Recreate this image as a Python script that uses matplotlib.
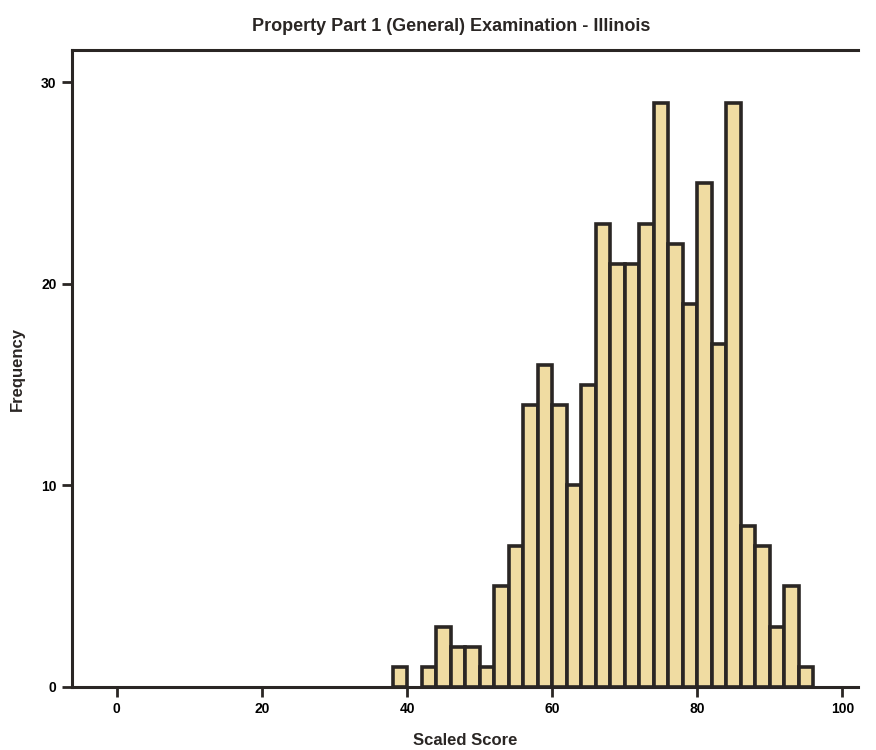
import matplotlib
matplotlib.use('Agg')
import matplotlib.pyplot as plt

# Histogram bins (left edge of each 2-point bin) and counts
bin_left = [38, 40, 42, 44, 46, 48, 50, 52, 54, 56, 58, 60, 62, 64, 66,
            68, 70, 72, 74, 76, 78, 80, 82, 84, 86, 88, 90, 92, 94]
counts = [1, 0, 1, 3, 2, 2, 1, 5, 7, 14, 16, 14, 10, 15, 23,
          21, 21, 23, 29, 22, 19, 25, 17, 29, 8, 7, 3, 5, 1]
bin_width = 2

x_ticks = [0, 20, 40, 60, 80, 100]
y_ticks = [0, 10, 20, 30]

plt.rcParams['font.family'] = ['Liberation Sans', 'DejaVu Sans']
plt.rcParams['font.weight'] = 'bold'

fig = plt.figure(figsize=(8.76, 7.5), dpi=100)
ax = fig.add_axes([0.082, 0.084, 0.897, 0.849])

# skip empty bins so no flat outline is drawn on the axis
xs = [b for b, c in zip(bin_left, counts) if c > 0]
hs = [c for c in counts if c > 0]
ax.bar(xs, hs, width=bin_width, align='edge', color='#f0dca2',
       edgecolor='#2a2624', linewidth=2.6, zorder=2)

ax.set_xlim(-6.2, 102.1)
ax.set_ylim(0, 31.6)
ax.set_xticks(x_ticks)
ax.set_yticks(y_ticks)
ax.tick_params(axis='both', direction='out', length=7, width=2,
               color='#2a2624', labelsize=10, pad=4)

for side in ['left', 'bottom', 'top']:
    ax.spines[side].set_linewidth(2.2)
    ax.spines[side].set_color('#2a2624')
ax.spines['right'].set_visible(False)

ax.set_title('Property Part 1 (General) Examination - Illinois',
             fontsize=13, fontweight='bold', color='#2a2624', pad=14,
             x=0.483)
ax.set_xlabel('Scaled Score', fontsize=12, fontweight='bold',
              color='#2a2624', labelpad=12)
ax.set_ylabel('Frequency', fontsize=12, fontweight='bold',
              color='#2a2624', labelpad=12)

fig.savefig('out.png', dpi=100)
